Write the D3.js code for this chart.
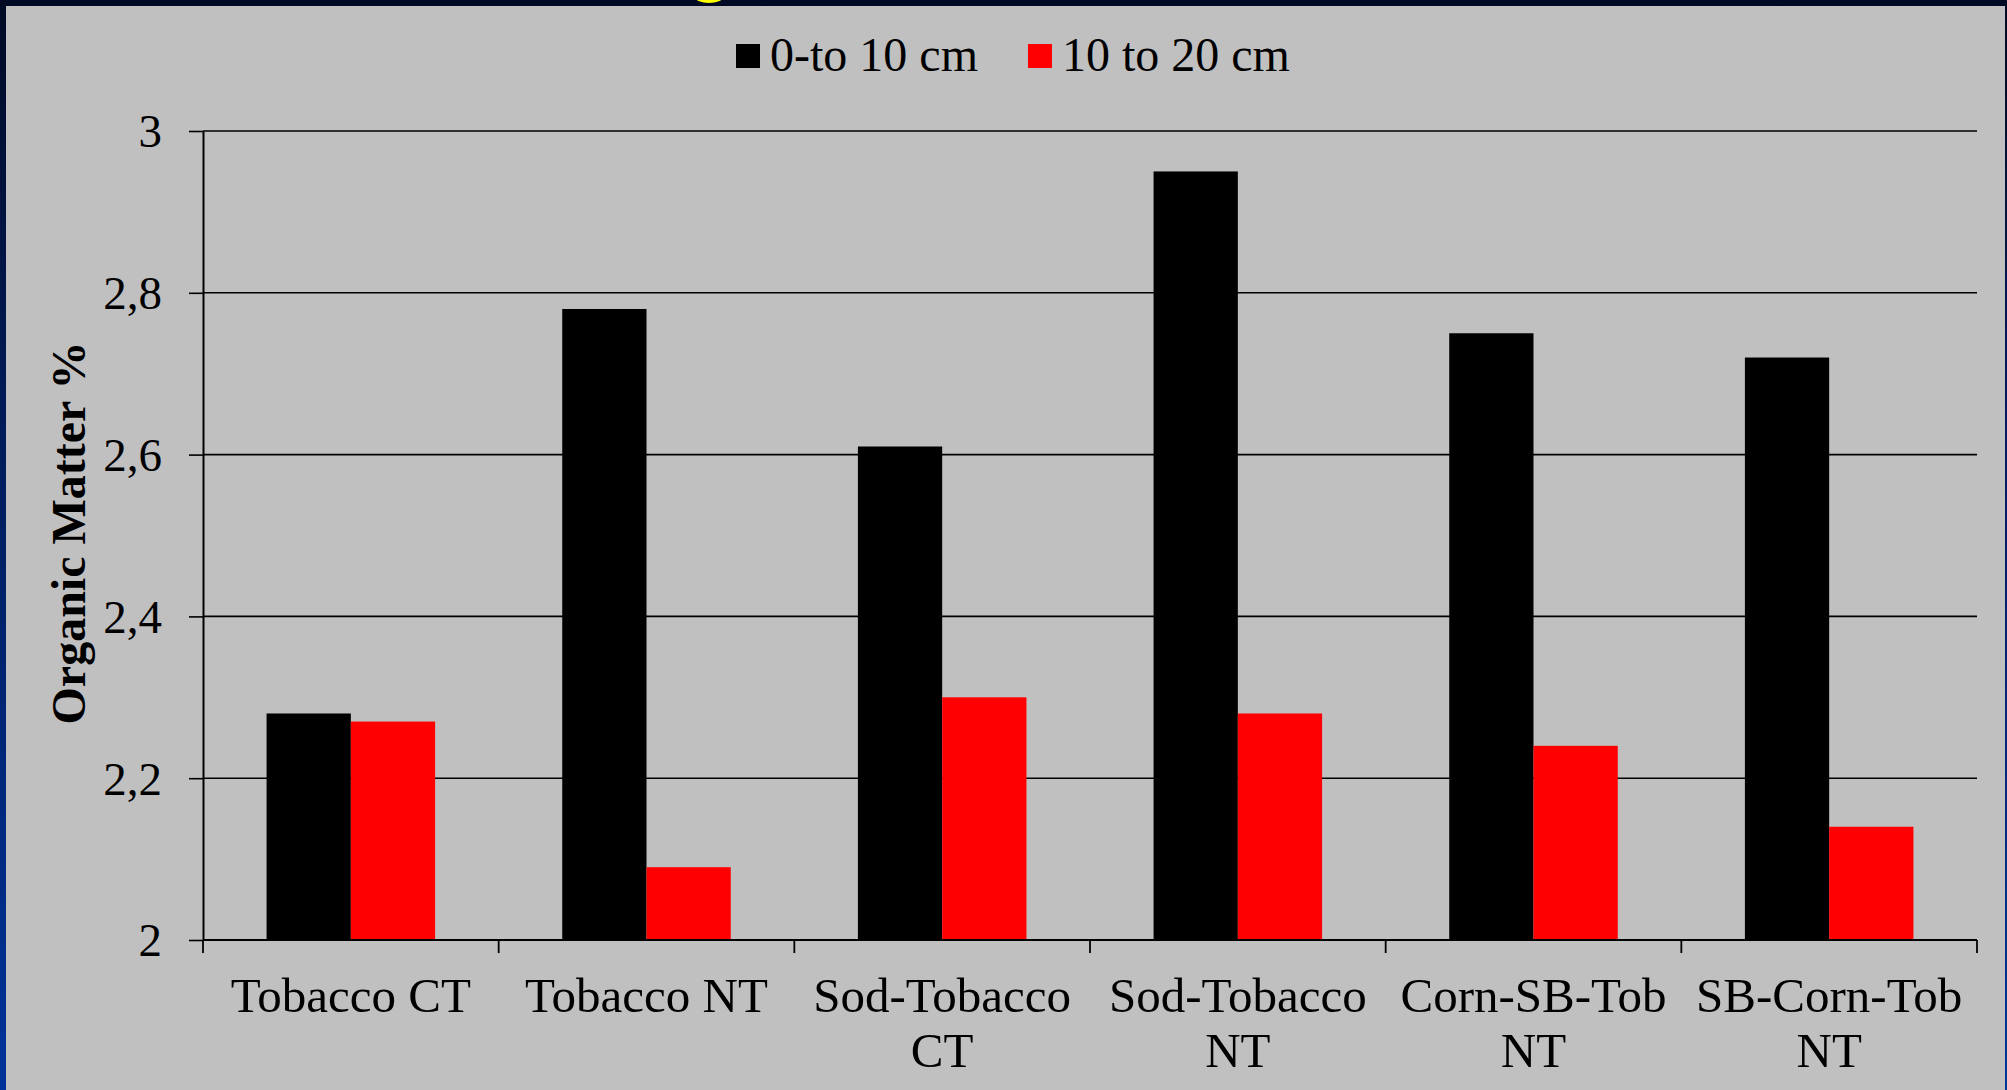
<!DOCTYPE html>
<html>
<head>
<meta charset="utf-8">
<script src="https://cdn.jsdelivr.net/npm/d3@7"></script>
<style>
  html, body { margin: 0; padding: 0; background: #000c28; }
  svg { display: block; }
  text { font-family: "Liberation Serif", "Times New Roman", serif; fill: #000; }
</style>
</head>
<body>
<svg id="chart" width="2007" height="1090"></svg>
<script>
// Soil organic matter by rotation / tillage system, two sampling depths
const categories = ["Tobacco CT", "Tobacco NT", "Sod-Tobacco CT", "Sod-Tobacco NT", "Corn-SB-Tob NT", "SB-Corn-Tob NT"];
const seriesNames = ["0-to 10 cm", "10 to 20 cm"];
const depth0to10 = [2.28, 2.78, 2.61, 2.95, 2.75, 2.72];
const depth10to20 = [2.27, 2.09, 2.30, 2.28, 2.24, 2.14];
const yTicks = [2, 2.2, 2.4, 2.6, 2.8, 3];
const yTickLabels = ["2", "2,2", "2,4", "2,6", "2,8", "3"];
const yTitle = "Organic Matter %";

const colors = ["#000000", "#ff0000"];
const W = 2007, H = 1090;
const plot = { left: 203, right: 1977, top: 131, bottom: 940 };

const svg = d3.select("#chart");

// Slide background: dark navy fading to blue, with the grey chart panel on top
const defs = svg.append("defs");
const grad = defs.append("linearGradient").attr("id", "bg").attr("x1", 0).attr("y1", 0).attr("x2", 0).attr("y2", 1);
grad.append("stop").attr("offset", "0%").attr("stop-color", "#000a24");
grad.append("stop").attr("offset", "35%").attr("stop-color", "#001a55");
grad.append("stop").attr("offset", "100%").attr("stop-color", "#003399");
svg.append("rect").attr("width", W).attr("height", H).attr("fill", "url(#bg)");

// tail of the slide heading peeking above the panel
svg.append("ellipse").attr("cx", 709).attr("cy", -3).attr("rx", 14).attr("ry", 6).attr("fill", "#ffff00");

svg.append("rect").attr("x", 6).attr("y", 6).attr("width", 1999).attr("height", H - 6).attr("fill", "#c0c0c0");

// Scales
const x0 = d3.scaleBand().domain(categories).range([plot.left, plot.right]).paddingInner(0.43).paddingOuter(0.215);
const x1 = d3.scaleBand().domain(seriesNames).range([0, x0.bandwidth()]).padding(0);
const y = d3.scaleLinear().domain([2, 3]).range([plot.bottom, plot.top]);

// Horizontal gridlines
svg.append("g").selectAll("line").data(yTicks.filter(v => v > 2)).join("line")
  .attr("x1", plot.left).attr("x2", plot.right)
  .attr("y1", d => y(d)).attr("y2", d => y(d))
  .attr("stroke", "#000").attr("stroke-width", 1.6);

// Bars
const rows = categories.map((c, i) => ({ cat: c, vals: [depth0to10[i], depth10to20[i]] }));
const groups = svg.append("g").selectAll("g").data(rows).join("g")
  .attr("transform", d => `translate(${x0(d.cat)},0)`);
groups.selectAll("rect").data(d => d.vals.map((v, k) => ({ name: seriesNames[k], v, k }))).join("rect")
  .attr("x", d => x1(d.name))
  .attr("width", x1.bandwidth())
  .attr("y", d => y(d.v))
  .attr("height", d => y(2) - y(d.v))
  .attr("fill", d => colors[d.k]);

// Y axis
const yAxis = d3.axisLeft(y).tickValues(yTicks).tickSize(14).tickSizeOuter(0)
  .tickFormat((d, i) => yTickLabels[i]);
const gy = svg.append("g").attr("transform", `translate(${plot.left},0)`).call(yAxis);
gy.select(".domain").attr("stroke", "#000").attr("stroke-width", 2);
gy.selectAll(".tick line").attr("stroke", "#000").attr("stroke-width", 1.6);
gy.selectAll(".tick text").attr("x", -41).attr("dy", "0.34em")
  .style("font-family", "Liberation Serif").style("font-size", "47px").attr("fill", "#000");

// X axis: baseline, category boundary ticks, wrapped labels
const step = x0.step();
const boundaries = d3.range(categories.length + 1).map(i => plot.left + i * step);
svg.append("line").attr("x1", plot.left).attr("x2", plot.right)
  .attr("y1", plot.bottom).attr("y2", plot.bottom).attr("stroke", "#000").attr("stroke-width", 2);
svg.append("g").selectAll("line").data(boundaries).join("line")
  .attr("x1", d => d).attr("x2", d => d)
  .attr("y1", plot.bottom).attr("y2", plot.bottom + 13)
  .attr("stroke", "#000").attr("stroke-width", 1.8);

const labelG = svg.append("g");
categories.forEach(c => {
  const cx = x0(c) + x0.bandwidth() / 2;
  const t = labelG.append("text").attr("x", cx).attr("y", plot.bottom + 72)
    .attr("text-anchor", "middle").style("font-size", "49px").text(c);
  if (t.node().getComputedTextLength() > step - 20) {
    const cut = c.lastIndexOf(" ");
    t.text(null);
    t.append("tspan").attr("x", cx).attr("dy", 0).text(c.slice(0, cut));
    t.append("tspan").attr("x", cx).attr("dy", 55).text(c.slice(cut + 1));
  }
});

// Y axis title
svg.append("text").attr("transform", "translate(85,533) rotate(-90)")
  .attr("text-anchor", "middle").style("font-size", "48px").style("font-weight", "bold")
  .text(yTitle);

// Legend
const legend = svg.append("g");
let lx = 736;
seriesNames.forEach((name, k) => {
  legend.append("rect").attr("x", lx).attr("y", 44).attr("width", 24).attr("height", 24).attr("fill", colors[k]);
  const t = legend.append("text").attr("x", lx + 34).attr("y", 71).style("font-size", "48px").text(name);
  lx += 34 + t.node().getComputedTextLength() + 50;
});
</script>
</body>
</html>
